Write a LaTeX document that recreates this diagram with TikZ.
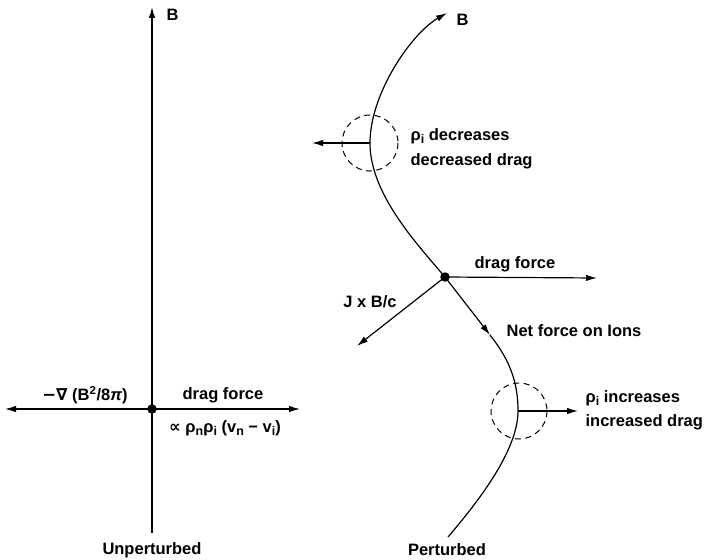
\documentclass[tikz,border=0pt]{standalone}
\usepackage{fontspec}
\setmainfont{Liberation Sans}
\newfontfamily\symfnt{DejaVu Sans}
\usetikzlibrary{arrows.meta}
\newcommand{\lowsub}[1]{\raisebox{-0.45ex}{\fontsize{12.5}{12.5}\selectfont #1}}
\begin{document}
\begin{tikzpicture}[x=1pt,y=-1pt,
  font=\fontsize{16.5}{19}\selectfont\bfseries,
  line width=1.2pt,
  arr/.style={-{Latex[length=11pt,width=6.5pt]}},
  dotnode/.style={circle,fill=black,inner sep=0pt,minimum size=9.5pt},
  lbl/.style={inner sep=1pt},
  dashcirc/.style={dash pattern=on 6pt off 4.5pt,line width=1pt}]
\useasboundingbox (0,0) rectangle (708,559);

% ---- Unperturbed ----
\node[dotnode] (O) at (152,409) {};
\coordinate (Btop) at (152,7);
\coordinate (Bbot) at (152,533);
\coordinate (Lt) at (5,409);
\coordinate (Rt) at (300,409);
\draw (O.center) -- (Bbot);
\draw[arr] (O.center) -- (Btop);
\draw[arr] (O.center) -- (Lt);
\draw[arr] (O.center) -- (Rt);
\node[lbl,anchor=west] (Bl) at (165,15) {B};
\node[lbl] (grad) at (85,395) {{\symfnt −∇} (B\textsuperscript{2}/8\textit{π})};
\node[lbl] (drag1) at (223,395) {drag force};
\node[lbl] (prop) at (225,428) {{\symfnt ∝} ρ\lowsub{n}ρ\lowsub{i} (v\lowsub{n} − v\lowsub{i})};
\node[lbl] (unp) at (152,550) {Unperturbed};

% ---- Perturbed ----
\node[dotnode] (D) at (445,277) {};
\coordinate (T) at (447,13);
\coordinate (C1) at (370,143);
\coordinate (N) at (490,335);
\coordinate (C2) at (518,411);
\coordinate (E) at (448,537);
\draw (D.center) .. controls (415,242) and (370,193) .. (C1);
\draw[arr] (C1) .. controls (370,93) and (412,33) .. (T);
\draw[arr] (D.center) -- (N);
\draw (N) .. controls (509,359) and (518,381) .. (C2)
          .. controls (518,451) and (477,503) .. (E);

\draw[dashcirc] (C1) circle (28);
\draw[dashcirc] (519,411) circle (28);

\coordinate (DL) at (312,143);
\coordinate (IR) at (578,411);
\coordinate (DF) at (597,278);
\coordinate (JB) at (357,346);
\draw[arr] (C1) -- (DL);
\draw[arr] (C2) -- (IR);
\draw[arr] (D.center) -- (DF);
\draw[arr] (D.center) -- (JB);

\node[lbl,anchor=west] (Br) at (455,20) {B};
\node[lbl,anchor=west] (dec1) at (409,136) {ρ\lowsub{i} decreases};
\node[lbl,anchor=west] (dec2) at (409,161) {decreased drag};
\node[lbl] (drag2) at (515,264) {drag force};
\node[lbl] (jxb) at (370,302) {J x B/c};
\node[lbl] (net) at (574,331) {Net force on Ions};
\node[lbl,anchor=west] (inc1) at (584,398) {ρ\lowsub{i} increases};
\node[lbl,anchor=west] (inc2) at (584,422) {increased drag};
\node[lbl] (per) at (447,550) {Perturbed};
\end{tikzpicture}
\end{document}
